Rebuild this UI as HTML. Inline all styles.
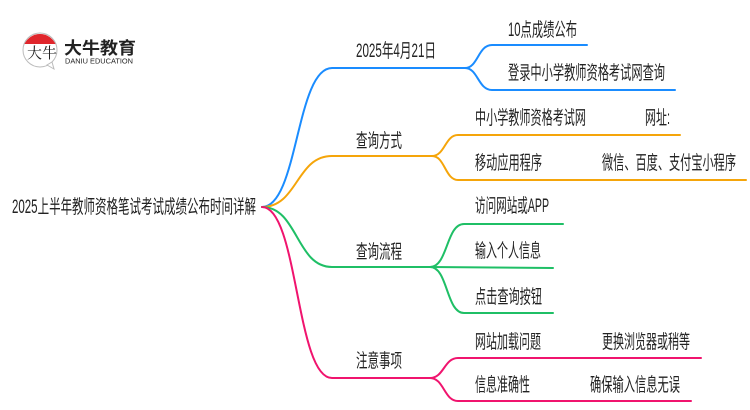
<!DOCTYPE html>
<html><head><meta charset="utf-8"><style>
html,body{margin:0;padding:0;background:#fff;}
svg{display:block;}
text{font-family:"Liberation Sans","Noto Sans CJK SC",sans-serif;fill:#222;}
</style></head><body>
<svg width="750" height="410" viewBox="0 0 750 410" xmlns="http://www.w3.org/2000/svg">
<circle cx="40" cy="50" r="17" fill="#fff" stroke="#bbb" stroke-width="1"/>
<path d="M24.5,44 A17,17 0 0 1 55.5,44 Z" fill="#e0262c"/>
<path d="M47,65 L54,69 L52,62 Z" fill="#fff" stroke="#bbb" stroke-width="1"/>
<text x="27" y="58" font-size="15" style="font-family:'Noto Serif CJK SC',serif">大牛</text>
<text x="64" y="54" font-size="17" font-weight="bold" textLength="72" lengthAdjust="spacingAndGlyphs" fill="#333">大牛教育</text>
<text x="65" y="63.5" font-size="7" textLength="68" lengthAdjust="spacingAndGlyphs" fill="#333">DANIU EDUCATION</text>

<g fill="none" stroke-width="2" stroke-linecap="round">
<path d="M262,207 C298,207 296,68 332,68 L465,68" stroke="#1a8cff"/>
<path d="M465,68 C478,68 478,45 492,45 L587,45" stroke="#1a8cff"/>
<path d="M465,68 C478,68 478,90 492,90 L675,90" stroke="#1a8cff"/>
<path d="M262,207 C298,207 296,156 332,156 L432,156" stroke="#f5a50a"/>
<path d="M432,156 C445,156 445,135 458,135 L680,135" stroke="#f5a50a"/>
<path d="M432,156 C445,156 445,180 458,180 L746,180" stroke="#f5a50a"/>
<path d="M262,207 C298,207 296,267 332,267 L430,267" stroke="#1fbf66"/>
<path d="M430,267 C448,267 446,224 464,224 L563,224" stroke="#1fbf66"/>
<path d="M430,267 L553,268" stroke="#1fbf66"/>
<path d="M430,267 C448,267 446,313 464,313 L553,313" stroke="#1fbf66"/>
<path d="M262,207 C298,207 296,378 332,378 L430,378" stroke="#f0146e"/>
<path d="M430,378 C444,378 444,358 458,358 L701,358" stroke="#f0146e"/>
<path d="M430,378 C444,378 444,401 458,401 L691,401" stroke="#f0146e"/>
</g>

<g font-size="19">
<text x="12" y="213" textLength="244" lengthAdjust="spacingAndGlyphs">2025上半年教师资格笔试考试成绩公布时间详解</text>
<text x="356" y="57" textLength="80" lengthAdjust="spacingAndGlyphs">2025年4月21日</text>
<text x="508" y="36" textLength="69" lengthAdjust="spacingAndGlyphs">10点成绩公布</text>
<text x="508" y="79" textLength="157" lengthAdjust="spacingAndGlyphs">登录中小学教师资格考试网查询</text>
<text x="356" y="147" textLength="46" lengthAdjust="spacingAndGlyphs">查询方式</text>
<text x="475" y="124" textLength="111" lengthAdjust="spacingAndGlyphs">中小学教师资格考试网</text>
<text x="645" y="124" textLength="25" lengthAdjust="spacingAndGlyphs">网址:</text>
<text x="475" y="169" textLength="67" lengthAdjust="spacingAndGlyphs">移动应用程序</text>
<text x="602" y="169" textLength="134" lengthAdjust="spacingAndGlyphs">微信、百度、支付宝小程序</text>
<text x="356" y="258" textLength="46" lengthAdjust="spacingAndGlyphs">查询流程</text>
<text x="475" y="212" textLength="74" lengthAdjust="spacingAndGlyphs">访问网站或APP</text>
<text x="475" y="257" textLength="66" lengthAdjust="spacingAndGlyphs">输入个人信息</text>
<text x="475" y="303" textLength="67" lengthAdjust="spacingAndGlyphs">点击查询按钮</text>
<text x="356" y="367" textLength="46" lengthAdjust="spacingAndGlyphs">注意事项</text>
<text x="475" y="348" textLength="66" lengthAdjust="spacingAndGlyphs">网站加载问题</text>
<text x="602" y="348" textLength="88" lengthAdjust="spacingAndGlyphs">更换浏览器或稍等</text>
<text x="475" y="391" textLength="55" lengthAdjust="spacingAndGlyphs">信息准确性</text>
<text x="590" y="391" textLength="90" lengthAdjust="spacingAndGlyphs">确保输入信息无误</text>
</g>
</svg>
</body></html>
